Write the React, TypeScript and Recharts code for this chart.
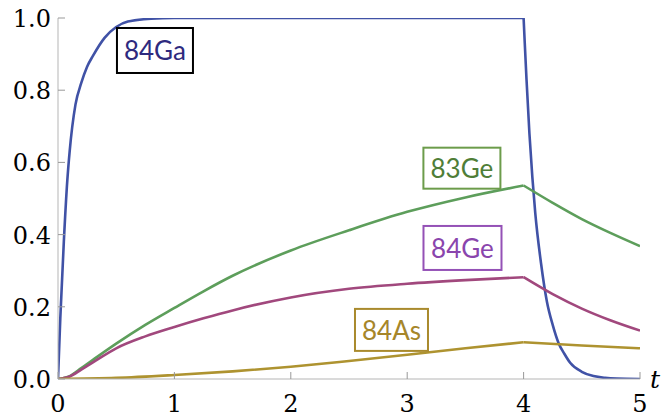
import { LineChart, Line, XAxis, YAxis, ReferenceDot } from 'recharts'

// time grid (seconds, arbitrary units) and populations
const gaTime = [0, 0.02, 0.05, 0.08, 0.1, 0.15, 0.2, 0.25, 0.3, 0.4, 0.5, 0.6, 0.8, 1, 2, 3, 4, 4.01, 4.025, 4.05, 4.075, 4.1, 4.15, 4.2, 4.25, 4.3, 4.35, 4.4, 4.5, 4.6, 4.7, 4.8, 5]
const ga84 = [0, 0.17, 0.38, 0.55, 0.63, 0.76, 0.82, 0.865, 0.895, 0.945, 0.975, 0.99, 0.998, 1, 1, 1, 1, 0.93, 0.83, 0.68, 0.56, 0.46, 0.32, 0.215, 0.15, 0.1, 0.07, 0.045, 0.02, 0.008, 0.003, 0.001, 0]

const geTime = [0, 0.1, 0.2, 0.3, 0.5, 0.75, 1, 1.25, 1.5, 2, 2.5, 3, 3.5, 4, 4.25, 4.5, 4.75, 5]
const ge83 = [0, 0.008, 0.03, 0.053, 0.098, 0.15, 0.197, 0.243, 0.286, 0.356, 0.412, 0.463, 0.503, 0.536, 0.488, 0.443, 0.404, 0.368]
const ge84 = [0, 0.007, 0.026, 0.046, 0.085, 0.118, 0.144, 0.168, 0.19, 0.226, 0.25, 0.264, 0.274, 0.282, 0.235, 0.195, 0.162, 0.134]

const asTime = [0, 0.5, 1, 1.5, 2, 2.5, 3, 3.5, 4, 4.5, 5]
const as84 = [0, 0.003, 0.011, 0.021, 0.034, 0.05, 0.067, 0.085, 0.102, 0.093, 0.085]

const xTicks = [0, 1, 2, 3, 4, 5]
const xMinor = [0.2, 0.4, 0.6, 0.8, 1.2, 1.4, 1.6, 1.8, 2.2, 2.4, 2.6, 2.8, 3.2, 3.4, 3.6, 3.8, 4.2, 4.4, 4.6, 4.8]
const yTicks = [0, 0.2, 0.4, 0.6, 0.8, 1]
const yMinor = [0.05, 0.1, 0.15, 0.25, 0.3, 0.35, 0.45, 0.5, 0.55, 0.65, 0.7, 0.75, 0.85, 0.9, 0.95]

const BEAM_OFF = 4

const series = [
  { name: '84Ga', t: gaTime, v: ga84, color: '#4052a6' },
  { name: '83Ge', t: geTime, v: ge83, color: '#5d9e5b' },
  { name: '84Ge', t: geTime, v: ge84, color: '#a1487d' },
  { name: '84As', t: asTime, v: as84, color: '#ae9330' },
]

const labels = [
  { text: '84Ga', t: 0.833, v: 0.91, w: 76, h: 45, color: '#2e2a7e', border: '#000000' },
  { text: '83Ge', t: 3.47, v: 0.584, w: 77, h: 41, color: '#4f7e37', border: '#6c9c4b' },
  { text: '84Ge', t: 3.475, v: 0.363, w: 78, h: 44, color: '#8a45ad', border: '#9451b6' },
  { text: '84As', t: 2.865, v: 0.136, w: 73, h: 42, color: '#a6862a', border: '#a98a2d' },
]

// split each curve at beam-off so the kink stays sharp
function phase(t: number[], v: number[], rise: boolean) {
  return t
    .map((x, i) => ({ t: x, v: v[i] }))
    .filter(d => (rise ? d.t <= BEAM_OFF : d.t >= BEAM_OFF))
}

// only DejaVu Serif resolves to a real serif face in the sandbox
const SERIF = 'DejaVu Serif'

function XTick({ x, y, payload }: any) {
  return (
    <text x={x} y={y + 40} textAnchor="middle" fill="#000" fontFamily={SERIF} fontSize={24}>{payload.value}</text>
  )
}

function YTick({ x, y, payload }: any) {
  return (
    <text x={x} y={y + 9} textAnchor="end" fill="#000" fontFamily={SERIF} fontSize={24}>{Number(payload.value).toFixed(1)}</text>
  )
}

function Box(props: any) {
  const { cx, cy, w, h, text, color, border } = props
  return (
    <g>
      <rect x={cx - w / 2} y={cy - h / 2} width={w} height={h} fill="#fff" stroke={border} strokeWidth={2} />
      <text x={cx} y={cy} textAnchor="middle" dominantBaseline="central" fill={color}
        fontFamily="Lato, 'Open Sans', sans-serif" fontSize={26}>{text}</text>
    </g>
  )
}

export default function App() {
  return (
    <div style={{ position: 'absolute', left: 0, top: 0, width: 664, height: 417, background: '#fff' }}>
      <LineChart width={664} height={417} margin={{ top: 18, right: 24, left: 0, bottom: 0 }}>
        <XAxis xAxisId="minor" type="number" dataKey="t" domain={[0, 5]} ticks={xMinor} height={0}
          axisLine={false} tick={false} tickSize={-4} tickLine={{ stroke: '#aaa' }} />
        <XAxis type="number" dataKey="t" domain={[0, 5]} ticks={xTicks} height={38} allowDataOverflow
          axisLine={{ stroke: '#b5b5b5', strokeWidth: 1 }} tickLine={{ stroke: '#999' }} tickSize={-7} tickMargin={0}
          tick={<XTick />}
          label={{
            content: ({ viewBox }: any) => (
              <text x={viewBox.x + viewBox.width + 15} y={viewBox.y + 9} textAnchor="middle"
                fontFamily={SERIF} fontStyle="italic" fontSize={25} fill="#000">t</text>
            ),
          }} />
        <YAxis yAxisId="minor" type="number" domain={[0, 1]} ticks={yMinor} width={0}
          axisLine={false} tick={false} tickSize={-4} tickLine={{ stroke: '#aaa' }} />
        <YAxis type="number" domain={[0, 1]} ticks={yTicks} width={58} allowDataOverflow
          axisLine={{ stroke: '#b5b5b5', strokeWidth: 1 }} tickLine={{ stroke: '#999' }} tickSize={-7} tickMargin={14}
          tick={<YTick />} />
        {series.flatMap(s => [
          <Line key={s.name + 'a'} data={phase(s.t, s.v, true)} dataKey="v" type="monotone" stroke={s.color}
            strokeWidth={2.6} dot={false} isAnimationActive={false} />,
          <Line key={s.name + 'b'} data={phase(s.t, s.v, false)} dataKey="v" type="monotone" stroke={s.color}
            strokeWidth={2.6} dot={false} isAnimationActive={false} />,
        ])}
        {labels.map(l => (
          <ReferenceDot key={l.text} x={l.t} y={l.v} r={1}
            shape={(p: any) => <Box {...p} {...l} />} />
        ))}
      </LineChart>
    </div>
  )
}
